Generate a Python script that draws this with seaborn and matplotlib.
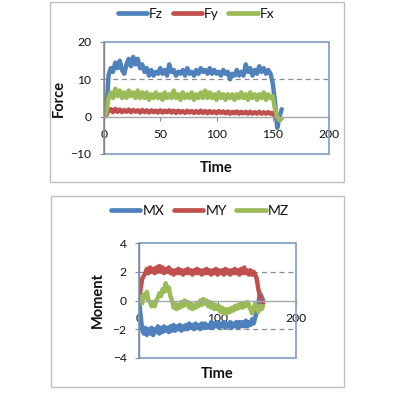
import matplotlib
matplotlib.use("Agg")
import matplotlib.pyplot as plt
from matplotlib.patches import Rectangle
from matplotlib.lines import Line2D
import numpy as np
import pandas as pd
import seaborn as sns

# ---------------- data ----------------
time_top = list(range(0, 160, 2))
Fz = [0, 0.5, 11, 13, 12, 14.5, 13, 15, 12.5, 11.5,
      14, 15.5, 13.5, 16, 14, 15.5, 13, 14, 12, 13,
      11, 12.5, 11, 12, 11.5, 13, 11.5, 12.5, 11, 14,
      12, 12.5, 11, 12, 11.5, 12.5, 11, 13, 11.5, 12,
      11, 12.5, 11.5, 13, 12, 12.5, 11.5, 13, 11.5, 12.5,
      11.5, 12, 11, 12.5, 11.5, 12, 10, 11.5, 11, 12.5,
      11, 12, 11, 14, 12, 13, 11, 12.5, 11.5, 13.5,
      12, 13, 11.5, 12.5, 11.5, 9, 4, -3, 0, 2]
Fy = [0, 0.5, 1.5, 2.0, 1.2, 2.1, 1.3, 1.9, 1.2, 1.8,
      1.3, 1.9, 1.2, 1.8, 1.3, 1.7, 1.1, 1.8, 1.2, 1.7,
      1.1, 1.7, 1.2, 1.6, 1.1, 1.7, 1.1, 1.6, 1.2, 1.7,
      1.1, 1.6, 1.0, 1.6, 1.1, 1.5, 1.0, 1.6, 1.1, 1.5,
      1.0, 1.5, 1.0, 1.6, 1.0, 1.5, 0.9, 1.5, 1.0, 1.4,
      0.9, 1.5, 1.0, 1.4, 0.9, 1.4, 0.8, 1.3, 0.9, 1.4,
      0.8, 1.3, 0.9, 1.3, 0.8, 1.3, 0.8, 1.2, 0.8, 1.3,
      0.8, 1.2, 0.8, 1.2, 0.8, 1.0, 0.0, 0.0, None, None]
Fx = [0, 1, 5, 6.5, 5, 7.5, 5.5, 7, 5, 6.5,
      5, 7, 5.5, 6.5, 5, 7, 5, 6.5, 5, 6.5,
      4.5, 6, 5, 6.5, 5, 6, 4.5, 6.5, 5, 6,
      5, 7, 5, 6, 4.5, 6.5, 5, 6, 5, 6.5,
      4.5, 6, 5, 6.5, 5, 7, 5, 6.5, 5, 6,
      4.5, 6.5, 5, 6, 4.5, 6, 5, 6, 4.5, 6,
      5, 6.5, 5, 6, 4.5, 6.5, 5, 6, 4.5, 6,
      5, 6.5, 4.5, 6, 5, 5.5, 2, 0, -1, -0.5]

time_bot = list(range(0, 160, 2))
MX = [0, -1.0, -2.0, -2.3, -1.9, -2.4, -2.0, -2.3, -1.9, -2.4,
      -2.0, -2.2, -1.8, -2.3, -1.9, -2.2, -1.8, -2.1, -1.9, -2.2,
      -1.8, -2.1, -1.7, -2.1, -1.8, -2.0, -1.7, -2.1, -1.8, -2.0,
      -1.7, -2.0, -1.6, -1.9, -1.7, -2.0, -1.6, -1.9, -1.7, -2.0,
      -1.6, -1.9, -1.6, -1.9, -1.7, -1.9, -1.5, -1.9, -1.6, -1.8,
      -1.5, -1.9, -1.6, -1.8, -1.5, -1.9, -1.6, -1.8, -1.5, -1.9,
      -1.6, -1.8, -1.5, -1.9, -1.5, -1.8, -1.5, -1.8, -1.4, -1.8,
      -1.5, -1.7, -1.3, -1.6, -1.2, -0.8, -0.2, 0.5, 0.3, 0.0]
MY = [0, 0.8, 1.5, 1.7, 1.9, 2.2, 1.9, 2.3, 2.0, 2.2,
      1.9, 2.3, 2.0, 2.4, 2.0, 2.3, 1.9, 2.2, 2.0, 2.3,
      1.9, 2.1, 1.8, 2.1, 1.9, 2.2, 1.9, 2.1, 1.8, 2.1,
      1.9, 2.2, 1.9, 2.1, 1.8, 2.1, 1.9, 2.2, 1.9, 2.1,
      1.8, 2.1, 1.9, 2.2, 1.9, 2.1, 1.8, 2.1, 1.9, 2.2,
      1.8, 2.1, 1.9, 2.1, 1.8, 2.2, 1.9, 2.1, 1.8, 2.1,
      1.9, 2.2, 1.9, 2.1, 1.8, 2.2, 1.9, 2.3, 1.9, 2.1,
      1.8, 2.1, 1.8, 2.0, 1.8, 1.5, 0.8, 0.3, 0.0, -0.2]
MZ = [0, 0.3, -0.2, 0.4, 0.2, 0.6, 0.0, -0.1, -0.4, -0.1,
      -0.4, 0.0, 0.2, 0.5, 0.3, 0.8, 0.6, 1.2, 0.7, 0.9,
      0.3, 0.0, -0.5, -0.2, -0.6, -0.3, -0.5, -0.1, -0.4, 0.0,
      -0.3, -0.1, -0.5, -0.2, -0.6, -0.3, -0.5, -0.2, -0.4, 0.0,
      -0.3, 0.1, -0.2, 0.0, -0.4, -0.1, -0.5, -0.2, -0.6, -0.3,
      -0.6, -0.4, -0.8, -0.5, -0.9, -0.6, -0.9, -0.6, -0.8, -0.5,
      -0.7, -0.4, -0.6, -0.3, -0.5, -0.2, -0.5, -0.2, -0.4, -0.1,
      -0.3, -0.6, -0.9, -0.5, -0.2, -0.5, -0.8, -0.4, -0.6, -0.4]

top_series = ["Fz", "Fy", "Fx"]
bot_series = ["MX", "MY", "MZ"]
top_yticks = [-10, 0, 10, 20]
bot_yticks = [-4, -2, 0, 2, 4]
top_xticks = [0, 50, 100, 150, 200]
bot_xticks = [0, 100, 200]

BLUE, RED, GREEN = "#4F81BD", "#C0504D", "#9BBB59"

# ---------------- style ----------------
sns.set_theme(style="white")
plt.rcParams["font.family"] = ["Lato", "DejaVu Sans"]

W, H = 401, 396
fig = plt.figure(figsize=(W / 100, H / 100), dpi=100)
fig.patch.set_facecolor("white")

def fx(px):
    return px / W

def fy(py):
    return 1 - py / H

# outer chart boxes
for (x0, y0, x1, y1) in [(50, 2, 344, 182), (51, 196, 344, 387)]:
    fig.patches.append(Rectangle((fx(x0), fy(y1)), fx(x1) - fx(x0), fy(y0) - fy(y1),
                                 transform=fig.transFigure, fill=False,
                                 edgecolor="#BFBFBF", linewidth=1.0))

def make_df(t, series_dict):
    frames = []
    for name, vals in series_dict.items():
        frames.append(pd.DataFrame({"Time": t[:len(vals)], "Value": vals, "Series": name}))
    d = pd.concat(frames, ignore_index=True)
    return d.dropna()

def style_axes(ax, xlim, ylim, yticks, xticks, grid_vals, ylabel):
    ax.set_xlim(*xlim)
    ax.set_ylim(*ylim)
    ax.set_yticks(yticks)
    ax.set_xticks(xticks)
    for g in grid_vals:
        ax.axhline(g, color="#8C8C8C", lw=0.9, ls=(0, (4, 3)), zorder=0.5)
    ax.spines["bottom"].set_position(("data", 0))
    ax.spines["bottom"].set_color("#A6A6A6")
    ax.spines["left"].set_color("#868686")
    ax.spines["top"].set_visible(False)
    ax.spines["right"].set_visible(False)
    for s in ["bottom", "left"]:
        ax.spines[s].set_linewidth(1.0)
    ax.add_patch(Rectangle((0, 0), 1, 1, transform=ax.transAxes, fill=False,
                           edgecolor="#7C9CC4", linewidth=1.2, clip_on=False, zorder=0.6))
    ax.tick_params(axis="y", direction="out", length=3, width=0.8, color="#868686",
                   pad=6, labelsize=8.7, left=True, labelcolor="#111111")
    ax.tick_params(axis="x", direction="out", length=3, width=0.8, color="#868686",
                   pad=6, labelsize=8.7, bottom=True, labelcolor="#111111")
    ax.set_xlabel("Time", fontsize=10.5, fontweight="bold", color="#111111")
    ax.set_ylabel(ylabel, fontsize=10.5, fontweight="bold", color="#111111")
    ax.set_facecolor("none")

LEG = dict(loc="center", bbox_transform=fig.transFigure, ncol=3, frameon=False,
           fontsize=10, handlelength=2.1, handletextpad=0.15, columnspacing=0.7,
           labelcolor="#111111")

# ---------------- top panel ----------------
ax1 = fig.add_axes([fx(104), fy(154), fx(329) - fx(104), fy(42) - fy(154)])
df1 = make_df(time_top, {"Fz": Fz, "Fy": Fy, "Fx": Fx})
sns.lineplot(data=df1, x="Time", y="Value", hue="Series", hue_order=top_series,
             palette=[BLUE, RED, GREEN], estimator=None, sort=False, linewidth=3.2,
             legend=False, ax=ax1)
style_axes(ax1, (0, 200), (-10, 20), top_yticks, top_xticks, [10], "Force")
ax1.xaxis.set_label_coords(0.5, -0.06)
ax1.yaxis.set_label_coords(-0.17, 0.5)

h1 = [Line2D([0], [0], color=c, lw=3.4) for c in [BLUE, RED, GREEN]]
ax1.legend(h1, top_series, bbox_to_anchor=(fx(196), fy(14)), **LEG)

# ---------------- bottom panel ----------------
ax2 = fig.add_axes([fx(139), fy(358), fx(296) - fx(139), fy(243) - fy(358)])
df2 = make_df(time_bot, {"MX": MX, "MY": MY, "MZ": MZ})
sns.lineplot(data=df2, x="Time", y="Value", hue="Series", hue_order=bot_series,
             palette=[BLUE, RED, GREEN], estimator=None, sort=False, linewidth=3.2,
             legend=False, ax=ax2)
style_axes(ax2, (0, 200), (-4, 4), bot_yticks, bot_xticks, [2, -2], "Moment")
ax2.xaxis.set_label_coords(0.5, -0.075)
ax2.yaxis.set_label_coords(-0.215, 0.5)

h2 = [Line2D([0], [0], color=c, lw=3.4) for c in [BLUE, RED, GREEN]]
ax2.legend(h2, bot_series, bbox_to_anchor=(fx(200), fy(211)), **LEG)

fig.savefig("out.png", dpi=100, facecolor="white")
